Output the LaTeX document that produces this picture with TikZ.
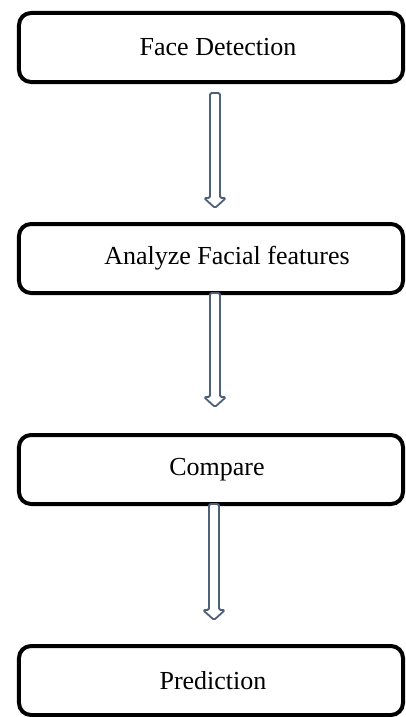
\documentclass[tikz,border=0pt]{standalone}
\usepackage{fontspec}
\setmainfont{Liberation Serif}
\usetikzlibrary{positioning,calc}
\definecolor{arrowslate}{HTML}{4F6079}
\newcommand{\hollowdown}[2]{%
  \draw[hollowarrow] ($(#1)+(-5,0)$) -- ($(#2)+(-5,10)$) -- ($(#2)+(-11,10)$) -- (#2)
    -- ($(#2)+(11,10)$) -- ($(#2)+(5,10)$) -- ($(#1)+(5,0)$) -- cycle;}

\begin{document}
\begin{tikzpicture}[x=1pt,y=1pt,node distance=138pt,
  stagebox/.style={draw,line width=4pt,rounded corners=12pt,inner sep=0pt,
                   minimum width=384pt,minimum height=69pt,
                   font=\fontsize{26}{30}\selectfont},
  hollowarrow/.style={draw=arrowslate,line width=1.8pt,fill=white,
                      rounded corners=1.5pt,line join=round}]
\useasboundingbox (-211,47.5) rectangle (195,-669.5);
\node[stagebox] (face) at (0,0) {\hspace*{14pt}Face Detection};
\node[stagebox] (analyze) [below=of face] {\hspace*{32pt}Analyze Facial features};
\node[stagebox] (compare) [below=of analyze] {\hspace*{12pt}Compare};
\node[stagebox] (pred) [below=of compare] {\hspace*{4pt}Prediction};

\coordinate (s1) at ($(face.south)+(4,-9)$);
\coordinate (t1) at ($(analyze.north)+(4,14)$);
\coordinate (s2) at ($(analyze.south)+(4,2)$);
\coordinate (t2) at ($(compare.north)+(4,26)$);
\coordinate (s3) at ($(compare.south)+(3,2)$);
\coordinate (t3) at ($(pred.north)+(3,24)$);
\hollowdown{s1}{t1}
\hollowdown{s2}{t2}
\hollowdown{s3}{t3}
\end{tikzpicture}
\end{document}
